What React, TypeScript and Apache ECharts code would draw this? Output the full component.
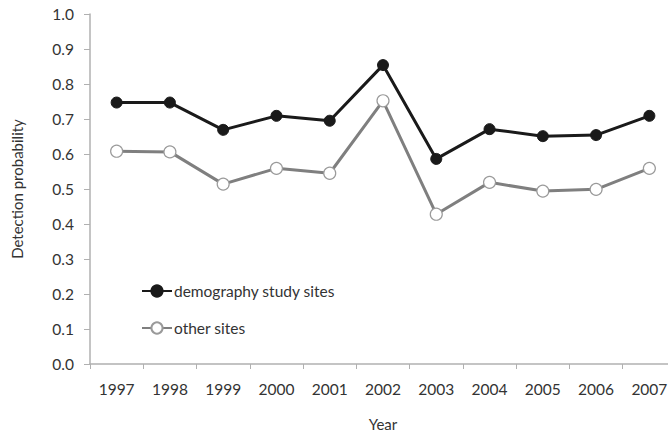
import React, { useEffect, useRef } from "react";
import * as echarts from "echarts";

const years = ["1997", "1998", "1999", "2000", "2001", "2002", "2003", "2004", "2005", "2006", "2007"];
const demographySites = [0.747, 0.747, 0.669, 0.709, 0.695, 0.854, 0.586, 0.671, 0.651, 0.654, 0.709];
const otherSites = [0.608, 0.606, 0.514, 0.559, 0.545, 0.752, 0.428, 0.519, 0.494, 0.499, 0.559];
const seriesNames = ["demography study sites", "other sites"];

const FONT = "Lato";

export default function App() {
  const ref = useRef<HTMLDivElement>(null);
  useEffect(() => {
    if (!ref.current) return;
    const chart = echarts.init(ref.current, undefined, { renderer: "svg" });
    chart.setOption({
      animation: false,
      backgroundColor: "#ffffff",
      textStyle: { fontFamily: FONT },
      grid: { left: 90, top: 14, bottom: 71, right: -8, containLabel: false, outerBoundsMode: "none" },
      legend: {
        orient: "vertical",
        left: 136,
        top: 278,
        itemWidth: 30,
        itemHeight: 14,
        itemGap: 21,
        textStyle: { fontFamily: FONT, fontSize: 15.5, color: "#333333", padding: [0, 0, 0, -3] },
        data: seriesNames,
      },
      xAxis: {
        type: "category",
        data: years,
        boundaryGap: true,
        name: "Year",
        nameLocation: "middle",
        nameGap: 52,
        nameTextStyle: { fontFamily: FONT, fontSize: 15, color: "#333333" },
        axisLine: { lineStyle: { color: "#b0b0b0", width: 1.5 } },
        axisTick: { show: true, alignWithLabel: false, length: 5, lineStyle: { color: "#b0b0b0" } },
        axisLabel: { fontFamily: FONT, fontSize: 15.5, color: "#333333", margin: 17 },
        splitLine: { show: false },
      },
      yAxis: {
        type: "value",
        min: 0,
        max: 1,
        interval: 0.1,
        name: "Detection probability",
        nameLocation: "middle",
        nameGap: 66,
        nameRotate: 90,
        nameTextStyle: { fontFamily: FONT, fontSize: 15, color: "#333333" },
        axisLine: { show: true, lineStyle: { color: "#b0b0b0", width: 1.5 } },
        axisTick: { show: true, length: 6, lineStyle: { color: "#b0b0b0" } },
        axisLabel: {
          fontFamily: FONT,
          fontSize: 15.5,
          color: "#333333",
          margin: 16,
          formatter: (v: number) => v.toFixed(1),
        },
        splitLine: { show: false },
      },
      series: [
        {
          name: seriesNames[0],
          type: "line",
          data: demographySites,
          symbol: "circle",
          symbolSize: 11,
          lineStyle: { color: "#1a1a1a", width: 3 },
          itemStyle: { color: "#1a1a1a", borderColor: "#1a1a1a", borderWidth: 1 },
          z: 3,
        },
        {
          name: seriesNames[1],
          type: "line",
          data: otherSites,
          symbol: "circle",
          symbolSize: 12,
          lineStyle: { color: "#7f7f7f", width: 3 },
          itemStyle: { color: "#ffffff", borderColor: "#9a9a9a", borderWidth: 1.2 },
          z: 2,
        },
      ],
    });
    return () => chart.dispose();
  }, []);
  return <div ref={ref} style={{ width: 668, height: 435, position: "absolute", left: 0, top: 0 }} />;
}
